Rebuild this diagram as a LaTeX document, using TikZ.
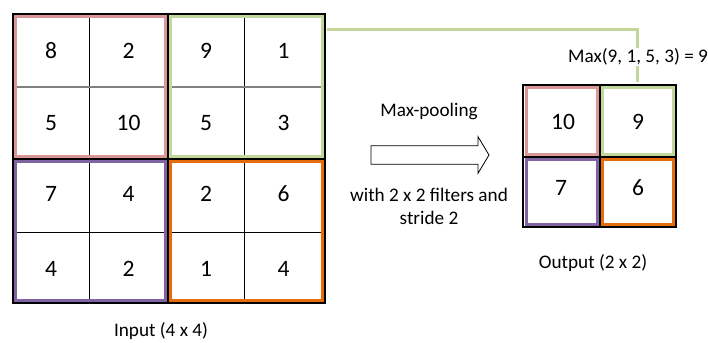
\documentclass[tikz,border=0pt]{standalone}
\usepackage{fontspec}
\setmainfont{Carlito}
\definecolor{cpink}{HTML}{D99694}
\definecolor{cgreen}{HTML}{C3D69B}
\definecolor{cpurple}{HTML}{8064A2}
\definecolor{corange}{HTML}{E46C0A}
\definecolor{cgray}{HTML}{808080}
\begin{document}
\begin{tikzpicture}[x=1pt,y=-1pt,
  num/.style={anchor=base,inner sep=0pt,font=\fontsize{23.5}{28}\selectfont},
  lbl/.style={anchor=base,inner sep=0pt,font=\fontsize{19.2}{23}\selectfont},
  divv/.style={black,line width=1pt},
  divh/.style={cgray,line width=1.2pt},
  outer/.style={black,line width=2pt},
  pool/.style={line width=3pt}]
\useasboundingbox (0,0) rectangle (708,342);
% input grid dividers
\draw[divv] (89.3,14) -- (89.3,303);
\draw[divv] (244.3,14) -- (244.3,303);
\draw[divh] (14,87) -- (324,87);
\draw[divv] (14,232.3) -- (324,232.3);
% colored pooling windows (input)
\draw[pool,cpink] (15.5,16.5) rectangle (165.5,156.5);
\draw[pool,cgreen] (170.5,16.5) rectangle (322.5,156.5);
\draw[pool,cpurple] (15.5,161.5) rectangle (165.5,300.5);
\draw[pool,corange] (170.5,161.5) rectangle (322.5,300.5);
% input outer and middle lines
\draw[outer] (13,14) rectangle (325,303);
\draw[outer] (168,14) -- (168,303);
\draw[outer] (13,159) -- (325,159);
% input numbers
\node[num] (a11) at (51,58.3) {8};
\node[num] (a12) at (128.5,58.3) {2};
\node[num] (a13) at (206,58.3) {9};
\node[num] (a14) at (283.5,58.3) {1};
\node[num] (a21) at (51,130) {5};
\node[num] (a22) at (128.5,130) {10};
\node[num] (a23) at (206,130) {5};
\node[num] (a24) at (283.5,130) {3};
\node[num] (a31) at (51,201.7) {7};
\node[num] (a32) at (128.5,201.7) {4};
\node[num] (a33) at (206,201.7) {2};
\node[num] (a34) at (283.5,201.7) {6};
\node[num] (a41) at (51,276.7) {4};
\node[num] (a42) at (128.5,276.7) {2};
\node[num] (a43) at (206,276.7) {1};
\node[num] (a44) at (283.5,276.7) {4};
\node[lbl] (inlbl) at (161,336.5) {Input (4 x 4)};
% output grid
\draw[pool,cpink] (526,87.5) rectangle (597.5,154.5);
\draw[pool,cgreen] (602.5,87.5) rectangle (673.5,154.5);
\draw[pool,cpurple] (526,159.5) rectangle (597.5,224);
\draw[pool,corange] (602.5,159.5) rectangle (673.5,224);
\draw[outer] (523.3,85) rectangle (676,226.7);
\draw[outer] (600,85) -- (600,226.7);
\draw[outer] (523.3,157) -- (676,157);
\node[num] (b11) at (563,129.3) {10};
\node[num] (b12) at (638,129.3) {9};
\node[num] (b21) at (561,195) {7};
\node[num] (b22) at (638,195) {6};
\node[lbl] (outlbl) at (593,268.3) {Output (2 x 2)};
% connector from green window to output
\coordinate (gstart) at (327,30);
\coordinate (gend) at (637,82);
\draw[cgreen,line width=3pt] (gstart) -| (gend);
\node[lbl,fill=white,inner sep=1pt] (maxlbl) at (638,62.7) {Max(9, 1, 5, 3) = 9};
% middle arrow and labels
\node[lbl] (mp) at (429,116.7) {Max-pooling};
\draw[black,line width=0.8pt,fill=white] (371,145.7) -- (478,145.7) -- (478,136.7) -- (489,155) -- (478,173.3) -- (478,164.3) -- (371,164.3) -- cycle;
\node[lbl] (w1) at (429,201.7) {with 2 x 2 filters and};
\node[lbl] (w2) at (429,224.3) {stride 2};
\end{tikzpicture}
\end{document}
